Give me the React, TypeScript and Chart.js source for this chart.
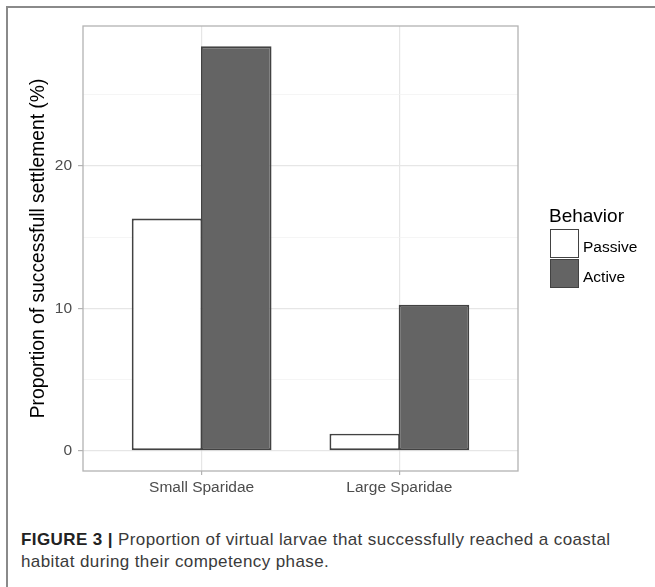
import React, { useEffect, useRef } from "react";
import { Chart, registerables } from "chart.js";

Chart.register(...registerables);

// ---- data ----
const categories = ["Small Sparidae", "Large Sparidae"];
const seriesNames = ["Passive", "Active"];
const passiveValues = [16.3, 1.2];
const activeValues = [28.4, 10.25];
const yTickValues = [0, 5, 10, 15, 20, 25];
const yMajorTicks = [0, 10, 20];
const yTitle = "Proportion of successfull settlement (%)";
const legendTitle = "Behavior";
const captionBold = "FIGURE 3 |";
const captionLine1 = " Proportion of virtual larvae that successfully reached a coastal";
const captionLine2 = "habitat during their competency phase.";

// ---- styles ----
const FONT = "'Liberation Sans', Arial, Helvetica, sans-serif";
const seriesFill = ["#ffffff", "#646464"];
const barBorder = "#424242";
const gridMajor = "#e6e6e6";
const gridMinor = "#f0f0f0";
const panelBorder = "#b3b3b3";
const tickText = "#4d4d4d";

const W = 655;
const CANVAS_H = 505;

const panelBorderPlugin = {
  id: "panelBorder",
  afterDatasetsDraw(chart: any) {
    const { ctx, chartArea } = chart;
    ctx.save();
    ctx.strokeStyle = panelBorder;
    ctx.lineWidth = 1.3;
    ctx.strokeRect(chartArea.left, chartArea.top, chartArea.right - chartArea.left, chartArea.bottom - chartArea.top);
    ctx.restore();
  },
};

export default function App() {
  const ref = useRef<HTMLCanvasElement | null>(null);

  useEffect(() => {
    if (!ref.current) return;
    const dataMax = Math.max(...passiveValues, ...activeValues);
    const yMin = -0.05 * dataMax;
    const yMax = dataMax * 1.05;
    const seriesValues = [passiveValues, activeValues];

    const chart = new Chart(ref.current, {
      type: "bar",
      data: {
        datasets: seriesNames.map((name, s) => ({
          label: name,
          data: seriesValues[s].map((v, i) => ({ x: i + 1, y: v })),
          backgroundColor: seriesFill[s],
          borderColor: barBorder,
          borderWidth: 1.9,
          borderSkipped: false,
          categoryPercentage: 0.7,
          barPercentage: 1.02,
        })),
      },
      options: {
        animation: false,
        responsive: false,
        devicePixelRatio: 1,
        layout: { padding: { left: 0, top: 26, right: W - 518, bottom: 0 } },
        plugins: { legend: { display: false }, tooltip: { enabled: false } },
        scales: {
          x: {
            type: "linear",
            min: 0.4,
            max: 2.6,
            offset: false,
            afterBuildTicks: (scale: any) => {
              scale.ticks = categories.map((_, i) => ({ value: i + 1 }));
            },
            afterFit: (scale: any) => {
              scale.height = CANVAS_H - 471;
            },
            ticks: {
              callback: (v: any) => categories[Math.round(Number(v)) - 1] ?? "",
              color: tickText,
              font: { family: FONT, size: 15.5 },
              padding: 3.5,
              maxRotation: 0,
              autoSkip: false,
            },
            grid: {
              offset: false,
              color: gridMajor,
              lineWidth: 1.2,
              tickColor: panelBorder,
              tickLength: 4,
            },
            border: { display: false },
          },
          y: {
            type: "linear",
            min: yMin,
            max: yMax,
            afterBuildTicks: (scale: any) => {
              scale.ticks = yTickValues.map((v) => ({ value: v }));
            },
            afterFit: (scale: any) => {
              scale.width = 83;
            },
            ticks: {
              callback: (v: any) => (yMajorTicks.includes(Number(v)) ? String(v) : ""),
              color: tickText,
              font: { family: FONT, size: 15.5 },
              padding: 6,
            },
            grid: {
              color: (c: any) => (yMajorTicks.includes(c.tick?.value) ? gridMajor : gridMinor),
              lineWidth: (c: any) => (yMajorTicks.includes(c.tick?.value) ? 1.2 : 0.7),
              tickColor: (c: any) => (yMajorTicks.includes(c.tick?.value) ? panelBorder : "rgba(0,0,0,0)"),
              tickLength: 5,
            },
            border: { display: false },
            title: {
              display: true,
              text: yTitle,
              color: "#000000",
              font: { family: FONT, size: 19.3 },
              padding: { top: 27.5, bottom: 0 },
            },
          },
        },
      },
      plugins: [panelBorderPlugin],
    } as any);
    return () => chart.destroy();
  }, []);

  return (
    <div style={{ position: "absolute", left: 0, top: 0, width: W, height: 587, overflow: "hidden", background: "#fff", fontFamily: FONT }}>
      <div style={{ position: "absolute", left: 6, top: 6, width: 800, height: 800, borderTop: "2px solid #8a8a8a", borderLeft: "2px solid #8a8a8a" }} />
      <canvas ref={ref} width={W} height={CANVAS_H} style={{ position: "absolute", left: 0, top: 0, width: W, height: CANVAS_H }} />
      {/* legend */}
      <div style={{ position: "absolute", left: 549, top: 206, fontSize: 19, lineHeight: "19px", color: "#000", whiteSpace: "nowrap" }}>{legendTitle}</div>
      {seriesNames.map((name, s) => (
        <React.Fragment key={name}>
          <div style={{ position: "absolute", left: 550, top: 229 + s * 30, width: 29, height: 29, boxSizing: "border-box", border: `1.6px solid ${barBorder}`, background: seriesFill[s] }} />
          <div style={{ position: "absolute", left: 583, top: 239 + s * 30, fontSize: 15.5, lineHeight: "15.5px", color: "#000", whiteSpace: "nowrap" }}>{name}</div>
        </React.Fragment>
      ))}
      {/* caption */}
      <div style={{ position: "absolute", left: 21, top: 529, fontSize: 17, lineHeight: "21.5px", letterSpacing: "0.4px", color: "#3a3a3a", whiteSpace: "nowrap" }}>
        <span style={{ fontWeight: "bold", color: "#222" }}>{captionBold}</span>
        {captionLine1}
        <br />
        {captionLine2}
      </div>
    </div>
  );
}
